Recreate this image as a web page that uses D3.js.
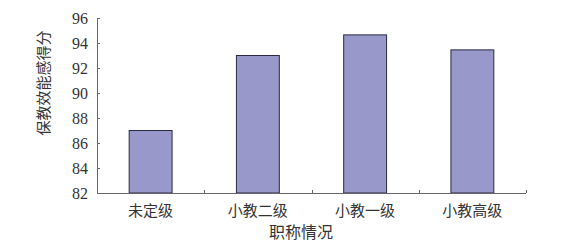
<!DOCTYPE html>
<html>
<head>
<meta charset="utf-8">
<script src="https://cdn.jsdelivr.net/npm/d3@7"></script>
<style>
  body { margin: 0; background: #fff; }
  svg { display: block; }
  .tick-num { font-family: 'Liberation Serif', 'DejaVu Serif', serif; font-size: 16px; fill: #333; }
  .cjk { font-family: 'Noto Sans CJK SC', sans-serif; font-size: 15px; fill: #333; }
</style>
</head>
<body>
<svg width="561" height="250"></svg>
<script>
// Chart data
const categories = ['未定级', '小教二级', '小教一级', '小教高级'];
const scores = [87.0, 93.0, 94.65, 93.45];
const yTicks = [82, 84, 86, 88, 90, 92, 94, 96];
const xTitle = '职称情况';
const yTitle = '保教效能感得分';

const svg = d3.select('svg');
const margin = { top: 18, right: 35, bottom: 57, left: 97 };
const width = 561 - margin.left - margin.right;
const height = 250 - margin.top - margin.bottom;

const g = svg.append('g')
  .attr('transform', 'translate(' + margin.left + ',' + margin.top + ')');

const x = d3.scaleBand()
  .domain(categories)
  .range([0, width])
  .paddingInner(0.6)
  .paddingOuter(0.3);

const y = d3.scaleLinear().domain([82, 96]).range([height, 0]);

// Bars
g.selectAll('.bar')
  .data(categories)
  .enter()
  .append('rect')
  .attr('class', 'bar')
  .attr('x', (d) => x(d))
  .attr('y', (d, i) => y(scores[i]))
  .attr('width', x.bandwidth())
  .attr('height', (d, i) => height - y(scores[i]))
  .attr('fill', '#9898ca')
  .attr('stroke', '#2a2a44')
  .attr('stroke-width', 1);

// Y axis (ticks pointing inward)
const yAxis = g.append('g')
  .call(d3.axisRight(y).tickValues(yTicks).tickSize(3).tickFormat(''));
yAxis.select('.domain').attr('d', 'M0.5,0V' + height).attr('stroke', '#666');
yAxis.selectAll('.tick line').attr('stroke', '#666');

g.selectAll('.ylab')
  .data(yTicks)
  .enter()
  .append('text')
  .attr('class', 'tick-num')
  .attr('x', -9)
  .attr('y', (d) => y(d))
  .attr('dy', '0.36em')
  .attr('text-anchor', 'end')
  .text((d) => d);

// X axis: line plus ticks between categories, pointing up
const step = x.step();
const xEdges = categories.map((d) => x(d) - x.paddingInner() * step / 2 + step);
g.append('line')
  .attr('x1', 0).attr('x2', width)
  .attr('y1', height + 0.5).attr('y2', height + 0.5)
  .attr('stroke', '#666');
g.selectAll('.xtick')
  .data(xEdges)
  .enter()
  .append('line')
  .attr('x1', (d) => Math.round(d) + 0.5)
  .attr('x2', (d) => Math.round(d) + 0.5)
  .attr('y1', height)
  .attr('y2', height - 3)
  .attr('stroke', '#666');

g.selectAll('.xlab')
  .data(categories)
  .enter()
  .append('text')
  .attr('class', 'cjk')
  .attr('x', (d) => x(d) + x.bandwidth() / 2)
  .attr('y', height + 23)
  .attr('text-anchor', 'middle')
  .text((d) => d);

// Axis titles
svg.append('text')
  .attr('class', 'cjk')
  .attr('x', 301)
  .attr('y', 238)
  .attr('text-anchor', 'middle')
  .style('font-size', '16px')
  .text(xTitle);

svg.append('text')
  .attr('class', 'cjk')
  .attr('transform', 'translate(49,83) rotate(-90)')
  .attr('text-anchor', 'middle')
  .text(yTitle);
</script>
</body>
</html>
